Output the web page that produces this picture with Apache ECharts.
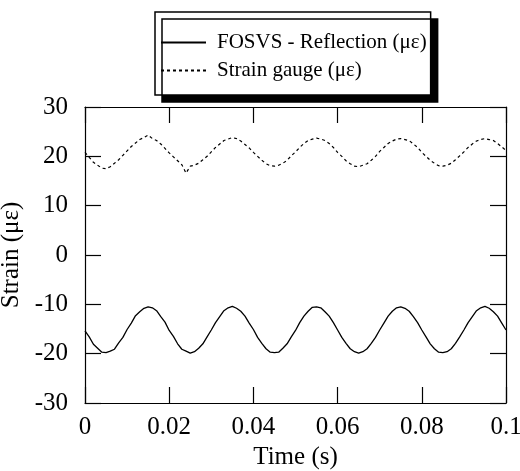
<!DOCTYPE html>
<html>
	<head>
		<meta charset="UTF-8">
		<title>Strain vs time</title>
		<script type="text/javascript" src="https://cdn.jsdelivr.net/npm/echarts@6/dist/echarts.min.js"></script>
		<style>
			html, body { margin: 0; padding: 0; background: #fff; }
			#chart1 { width: 520px; height: 471px; }
		</style>
	</head>
	<body>
		<div id="chart1"></div>
		<script type="text/javascript">
			// time samples (s)
			var times = [0, 0.001, 0.002, 0.003, 0.004, 0.005, 0.006, 0.007, 0.008, 0.009,
				0.010, 0.011, 0.012, 0.013, 0.014, 0.015, 0.016, 0.017, 0.018, 0.019,
				0.020, 0.021, 0.022, 0.023, 0.024, 0.025, 0.026, 0.027, 0.028, 0.029,
				0.030, 0.031, 0.032, 0.033, 0.034, 0.035, 0.036, 0.037, 0.038, 0.039,
				0.040, 0.041, 0.042, 0.043, 0.044, 0.045, 0.046, 0.047, 0.048, 0.049,
				0.050, 0.051, 0.052, 0.053, 0.054, 0.055, 0.056, 0.057, 0.058, 0.059,
				0.060, 0.061, 0.062, 0.063, 0.064, 0.065, 0.066, 0.067, 0.068, 0.069,
				0.070, 0.071, 0.072, 0.073, 0.074, 0.075, 0.076, 0.077, 0.078, 0.079,
				0.080, 0.081, 0.082, 0.083, 0.084, 0.085, 0.086, 0.087, 0.088, 0.089,
				0.090, 0.091, 0.092, 0.093, 0.094, 0.095, 0.096, 0.097, 0.098, 0.099, 0.100];

			// FOSVS - Reflection (με)
			var fosvs = [-15.4, -16.6, -18.1, -18.9, -19.7, -19.8, -19.5, -19.1, -17.8, -16.7,
				-15.1, -13.8, -12.3, -11.5, -10.8, -10.5, -10.7, -11.3, -12.5, -13.6,
				-15.3, -16.5, -18.0, -19.1, -19.5, -19.9, -19.6, -18.9, -18.0, -16.6,
				-15.2, -13.7, -12.5, -11.3, -10.7, -10.4, -10.8, -11.4, -12.4, -13.8,
				-15.1, -16.7, -17.9, -19.0, -19.7, -19.8, -19.7, -18.9, -18.0, -16.6,
				-15.3, -13.7, -12.4, -11.4, -10.6, -10.5, -10.7, -11.5, -12.4, -13.7,
				-15.2, -16.7, -17.9, -19.0, -19.6, -19.9, -19.6, -19.0, -17.9, -16.7,
				-15.2, -13.8, -12.4, -11.4, -10.7, -10.5, -10.8, -11.4, -12.5, -13.7,
				-15.2, -16.6, -18.0, -19.0, -19.7, -19.8, -19.6, -19.0, -17.9, -16.6,
				-15.2, -13.7, -12.5, -11.3, -10.7, -10.4, -10.8, -11.5, -12.4, -13.8, -15.2];

			// Strain gauge (με)
			var gauge = [20.8, 19.8, 18.8, 18.2, 17.6, 17.5, 17.9, 18.6, 19.3, 20.2,
				21.1, 22.0, 22.7, 23.4, 23.8, 24.3, 23.6, 23.2, 22.5, 21.6,
				20.7, 19.9, 19.1, 18.3, 16.6, 18.0, 18.2, 18.6, 19.3, 20.0,
				20.9, 21.8, 22.5, 23.2, 23.5, 23.8, 23.6, 23.1, 22.4, 21.7,
				20.8, 20.0, 19.2, 18.5, 18.1, 18.0, 18.2, 18.6, 19.2, 20.1,
				20.9, 21.8, 22.6, 23.2, 23.5, 23.7, 23.5, 23.2, 22.6, 21.8,
				20.8, 20.0, 19.1, 18.5, 18.0, 17.9, 18.2, 18.5, 19.2, 20.0,
				21.0, 21.8, 22.6, 23.1, 23.5, 23.6, 23.4, 23.2, 22.5, 21.8,
				20.8, 20.0, 19.2, 18.6, 18.1, 18.0, 18.2, 18.6, 19.3, 20.1,
				20.9, 21.8, 22.5, 23.1, 23.4, 23.6, 23.4, 23.2, 22.6, 21.9, 21.2];

			var seriesNames = ['FOSVS - Reflection (με)', 'Strain gauge (με)'];

			function pairs(ys){
				return times.map(function(t, i){ return [t, ys[i]]; });
			}

			var font = 'Liberation Serif, Times New Roman, serif';
			// inward ticks on all four sides; each axis gets its own near-black
			// colour so the renderer does not batch them together and drop some
			function tickStyle(c){
				return { show: true, inside: true, length: 16, lineStyle: { color: c, width: 1.2 } };
			}
			function axisLineStyle(){
				return { show: true, onZero: false, lineStyle: { color: '#000', width: 1.2 } };
			}

			var myChart = echarts.init(document.getElementById('chart1'));
			myChart.setOption({
				animation: false,
				backgroundColor: '#fff',
				textStyle: { fontFamily: font, color: '#000' },
				grid: { left: 85, right: 14, top: 107, bottom: 68, outerBoundsMode: 'none' },
				legend: {
					orient: 'vertical',
					left: 155,
					top: 12,
					padding: [20, 4, 14, 5],
					itemWidth: 45,
					itemHeight: 20,
					itemGap: 7,
					data: seriesNames,
					backgroundColor: '#fff',
					borderColor: '#000',
					borderWidth: 1.5,
					borderRadius: 0,
					shadowColor: '#000',
					shadowBlur: 0,
					shadowOffsetX: 7,
					shadowOffsetY: 7,
					itemStyle: { opacity: 0 },
					textStyle: { fontFamily: font, fontSize: 21, color: '#000', padding: [0, 0, 0, 6] }
				},
				xAxis: [{
					type: 'value',
					min: 0, max: 0.1, interval: 0.02,
					name: 'Time (s)',
					nameLocation: 'middle',
					nameGap: 40,
					nameTextStyle: { fontSize: 25 },
					axisLine: axisLineStyle(),
					axisTick: tickStyle('#010101'),
					splitLine: { show: false },
					axisLabel: { fontFamily: font, fontSize: 25, color: '#000', margin: 12 }
				}, {
					type: 'value', position: 'top',
					min: 0, max: 0.1, interval: 0.02,
					axisLine: axisLineStyle(),
					axisTick: tickStyle('#020202'),
					splitLine: { show: false },
					axisLabel: { show: false }
				}],
				yAxis: [{
					type: 'value',
					min: -30, max: 30, interval: 10,
					name: 'Strain (με)',
					nameLocation: 'middle',
					nameGap: 50,
					nameRotate: 90,
					nameTextStyle: { fontSize: 25 },
					axisLine: axisLineStyle(),
					axisTick: tickStyle('#030303'),
					splitLine: { show: false },
					axisLabel: { fontFamily: font, fontSize: 25, color: '#000', margin: 17 }
				}, {
					type: 'value', position: 'right',
					min: -30, max: 30, interval: 10,
					axisLine: axisLineStyle(),
					axisTick: tickStyle('#040404'),
					splitLine: { show: false },
					axisLabel: { show: false }
				}],
				series: [{
					name: seriesNames[0],
					type: 'line',
					data: pairs(fosvs),
					symbol: 'none',
					lineStyle: { color: '#000', width: 1.3, type: 'solid' }
				}, {
					name: seriesNames[1],
					type: 'line',
					data: pairs(gauge),
					symbol: 'none',
					lineStyle: { color: '#000', width: 1.2, type: [3, 3] }
				}]
			});
		</script>
	</body>
</html>
